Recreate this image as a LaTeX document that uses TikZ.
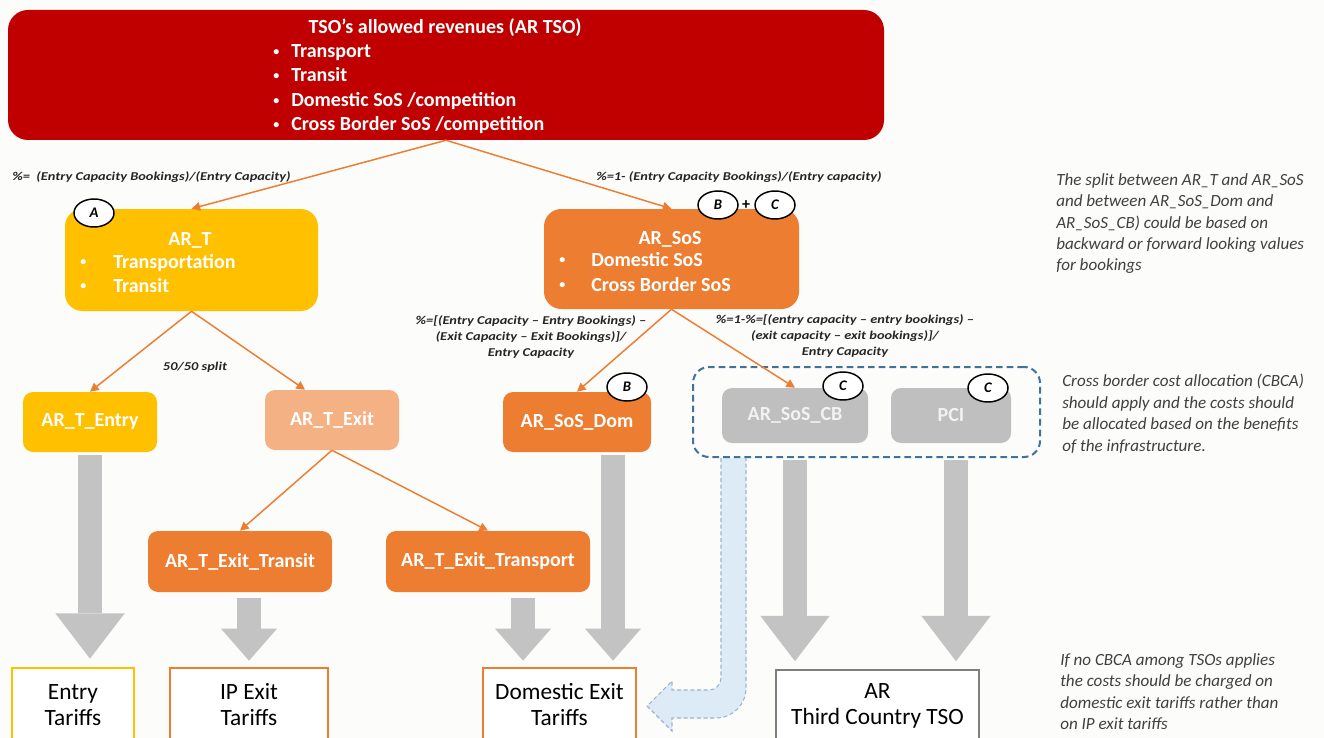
\documentclass[tikz,border=0pt]{standalone}
\usepackage{fontspec}
\setmainfont{Carlito}
\newfontfamily\lblfont[FakeStretch=1.2]{Carlito}
\usetikzlibrary{arrows.meta,calc,shapes.geometric}
\definecolor{dred}{HTML}{C00000}
\definecolor{yel}{HTML}{FFC000}
\definecolor{orng}{HTML}{ED7D31}
\definecolor{lorng}{HTML}{F4B183}
\definecolor{gry}{HTML}{BFBFBF}
\definecolor{agrey}{HTML}{C3C3C3}
\definecolor{dblue}{HTML}{41719C}
\definecolor{lblue}{HTML}{DDEBF7}
\definecolor{lbord}{HTML}{9DB4CC}
\definecolor{notec}{HTML}{404040}
\definecolor{lblc}{HTML}{262626}
\definecolor{bgc}{HTML}{FCFCFA}
\definecolor{tgrey}{HTML}{7F7F7F}
\definecolor{cbtext}{HTML}{F2F2F2}
\newcommand{\fntBox}{\fontsize{15}{18}\selectfont\bfseries}
\newcommand{\fntTar}{\fontsize{17.5}{19.5}\selectfont}
\newcommand{\fntLbl}{\lblfont\fontsize{9}{12}\selectfont\bfseries\itshape}
\newcommand{\fntNote}{\fontsize{12.8}{16.1}\selectfont\itshape}
\newcommand{\fntCirc}{\fontsize{11}{12}\selectfont\bfseries\itshape}
\newcommand{\smbul}{\raisebox{0.12em}{\fontsize{9}{9}\selectfont•}}
\begin{document}
\begin{tikzpicture}[x=0.75pt,y=-0.75pt,
  box/.style={rounded corners=7.5pt, inner sep=0pt, text=white, font=\fntBox, align=center},
  txt/.style={inner sep=0pt, text=white, font=\fntBox},
  circ/.style={ellipse, draw=black, line width=1.1pt, fill=white, minimum width=30pt, minimum height=21pt, inner sep=0pt, font=\fntCirc},
  tariff/.style={fill=white, inner sep=0pt, font=\fntTar, align=center, line width=2pt},
  lbl/.style={inner sep=0pt, font=\fntLbl, text=lblc},
  note/.style={inner sep=0pt, font=\fntNote, text=notec, align=left, anchor=north west},
  oarr/.style={draw=orng, line width=1.1pt, -{Triangle[length=6.5pt,width=6.5pt]}},
  bigA/.style={draw=agrey, line width=18pt, -{Triangle[width=52pt,length=34pt,line width=0pt]}},
  smallA/.style={draw=agrey, line width=18pt, -{Triangle[width=42pt,length=24pt,line width=0pt]}}
]
\useasboundingbox (0,0) rectangle (1324,738);
\clip (0,0) rectangle (1324,738);
\fill[bgc] (0,0) rectangle (1324,738);

% top box
\node[box, fill=dred, rounded corners=15pt, minimum width=657pt, minimum height=97.5pt] (tso) at (446,75) {};
\node[txt, anchor=base] (tsoT) at (445,33.5) {TSO’s allowed revenues (AR TSO)};
\node[txt, anchor=base west] (tb1) at (273,57.5) {\makebox[13.5pt][l]{\smbul}Transport};
\node[txt, anchor=base west] (tb2) at (273,81.5) {\makebox[13.5pt][l]{\smbul}Transit};
\node[txt, anchor=base west] (tb3) at (273,106.5) {\makebox[13.5pt][l]{\smbul}Domestic SoS /competition};
\node[txt, anchor=base west] (tb4) at (273,130.5) {\makebox[13.5pt][l]{\smbul}Cross Border SoS /competition};

% AR_T
\node[box, fill=yel, rounded corners=13pt, minimum width=189.75pt, minimum height=76.5pt] (art) at (191.5,260) {};
\node[txt, anchor=base] (artT) at (190,245) {AR\_T};
\node[txt, anchor=base west] (artB1) at (80,268) {\makebox[24.75pt][l]{\smbul}Transportation};
\node[txt, anchor=base west] (artB2) at (80,292) {\makebox[24.75pt][l]{\smbul}Transit};

% AR_SoS
\node[box, fill=orng, rounded corners=13pt, minimum width=191.25pt, minimum height=75pt] (ars) at (671.5,259) {};
\node[txt, anchor=base] (arsT) at (670,244) {AR\_SoS};
\node[txt, anchor=base west] (arsB1) at (559,266) {\makebox[24pt][l]{\smbul}Domestic SoS};
\node[txt, anchor=base west] (arsB2) at (559,291) {\makebox[24pt][l]{\smbul}Cross Border SoS};

% blue curved arrow
\draw[fill=lblue, draw=lbord, line width=0.8pt, dash pattern=on 3pt off 2pt]
  (721,458) -- (721,678) arc[start angle=0, end angle=90, radius=12] -- (672,690) -- (672,681)
  -- (647,706) -- (672,731) -- (672,718) -- (716,718) arc[start angle=90, end angle=0, radius=30]
  -- (746,458);

% dashed CBCA box
\node[draw=dblue, line width=1.5pt, dash pattern=on 5pt off 3pt, rounded corners=12pt, minimum width=260.25pt, minimum height=67.5pt, inner sep=0pt] (cbca) at (866.5,412) {};

% middle row
\node[box, fill=yel, minimum width=100.5pt, minimum height=45pt] (tEntry) at (90,422) {AR\_T\_Entry};
\node[box, fill=lorng, minimum width=100.5pt, minimum height=45pt] (tExit) at (332,420) {AR\_T\_Exit};
\node[box, fill=orng, minimum width=111pt, minimum height=45pt] (dom) at (577,422) {AR\_SoS\_Dom};
\node[box, fill=gry, text=cbtext, minimum width=109.5pt, minimum height=41.25pt] (cb) at (795,415.5) {AR\_SoS\_CB};
\node[box, fill=gry, text=cbtext, minimum width=90pt, minimum height=41.25pt] (pci) at (951,415.5) {PCI};

% third row
\node[box, fill=orng, minimum width=138pt, minimum height=45.75pt] (transit) at (240,561.5) {AR\_T\_Exit\_Transit};
\node[box, fill=orng, minimum width=153pt, minimum height=45.75pt] (transport) at (488,561.5) {AR\_T\_Exit\_Transport};

% tariff boxes
\node[tariff, draw=yel, minimum width=91.5pt, minimum height=55.5pt] (entry) at (73,705) {Entry\\Tariffs};
\node[tariff, draw=orng, minimum width=118.5pt, minimum height=55.5pt] (ipexit) at (249,705) {IP Exit\\Tariffs};
\node[tariff, draw=orng, minimum width=114.75pt, minimum height=55.5pt] (domexit) at (559.5,705) {Domestic Exit\\Tariffs};
\node[tariff, draw=tgrey, line width=1.2pt, minimum width=152.25pt, minimum height=54pt] (third) at (877.5,706) {AR\\Third Country TSO};

% circles
\node[circ] (cA) at (94,213) {A};
\node[circ] (cB1) at (718,205) {B};
\node[inner sep=0pt, font=\fontsize{12}{12}\selectfont\bfseries] (plus) at (746,205) {+};
\node[circ] (cC1) at (775,205) {C};
\node[circ] (cB2) at (627,387) {B};
\node[circ] (cC2) at (843,386) {C};
\node[circ] (cC3) at (988,388) {C};

% orange connectors
\draw[oarr] (tso.south) -- (art.north);
\draw[oarr] (tso.south) -- (ars.north);
\draw[oarr] (art.south) -- (tEntry.north);
\draw[oarr] (art.south) -- ($(tExit.north)+(-27,0)$);
\draw[oarr] (ars.south) -- (dom.north);
\draw[oarr] (ars.south) -- (cb.north);
\draw[oarr] (tExit.south) -- (transit.north);
\draw[oarr] (tExit.south) -- (transport.north);

% grey arrows
\coordinate (trA) at ($(domexit.north)+(-36.5,0)$);
\coordinate (dmA) at ($(domexit.north)+(53.5,0)$);
\coordinate (pcA) at ($(third.north)+(78.5,0)$);
\draw[bigA, shorten <=2pt, shorten >=6pt] (tEntry.south) -- (tEntry.south |- entry.north);
\draw[smallA, shorten <=4.5pt, shorten >=4.5pt] (ipexit.north |- transit.south) -- (ipexit.north);
\draw[smallA, shorten <=4.5pt, shorten >=4.5pt] (transport.south -| trA) -- (trA);
\draw[smallA, shorten <=2pt, shorten >=4.5pt] (dom.south -| dmA) -- (dmA);
\draw[bigA, shorten <=12.75pt, shorten >=6pt] (cb.south) -- (cb.south |- third.north);
\draw[bigA, shorten <=12.75pt, shorten >=6pt] (pci.south -| pcA) -- (pcA);

% labels
\node[lbl, anchor=west] (l1) at (12,177) {\%=~~(Entry Capacity Bookings)/(Entry Capacity)};
\node[lbl, anchor=west] (l2) at (596,177) {\%=1- (Entry Capacity Bookings)/(Entry capacity)};
\node[lbl, align=center] (l3) at (531,337) {\%=[(Entry Capacity – Entry Bookings) –\\(Exit Capacity – Exit Bookings)]/\\Entry Capacity};
\node[lbl, align=center] (l4) at (845,336) {\%=1-\%=[(entry capacity – entry bookings) –\\(exit capacity – exit bookings)]/\\Entry Capacity};
\node[lbl] (l5) at (195,367) {50/50 split};

% notes
\node[note] (n1) at (1056,173) {The split between AR\_T and AR\_SoS\\and between AR\_SoS\_Dom and\\AR\_SoS\_CB) could be based on\\backward or forward looking values\\for bookings};
\node[note] (n2) at (1062,374) {Cross border cost allocation (CBCA)\\should apply and the costs should\\be allocated based on the benefits\\of the infrastructure.};
\node[note] (n3) at (1060,653) {If no CBCA among TSOs applies\\the costs should be charged on\\domestic exit tariffs rather than\\on IP exit tariffs};
\end{tikzpicture}
\end{document}
